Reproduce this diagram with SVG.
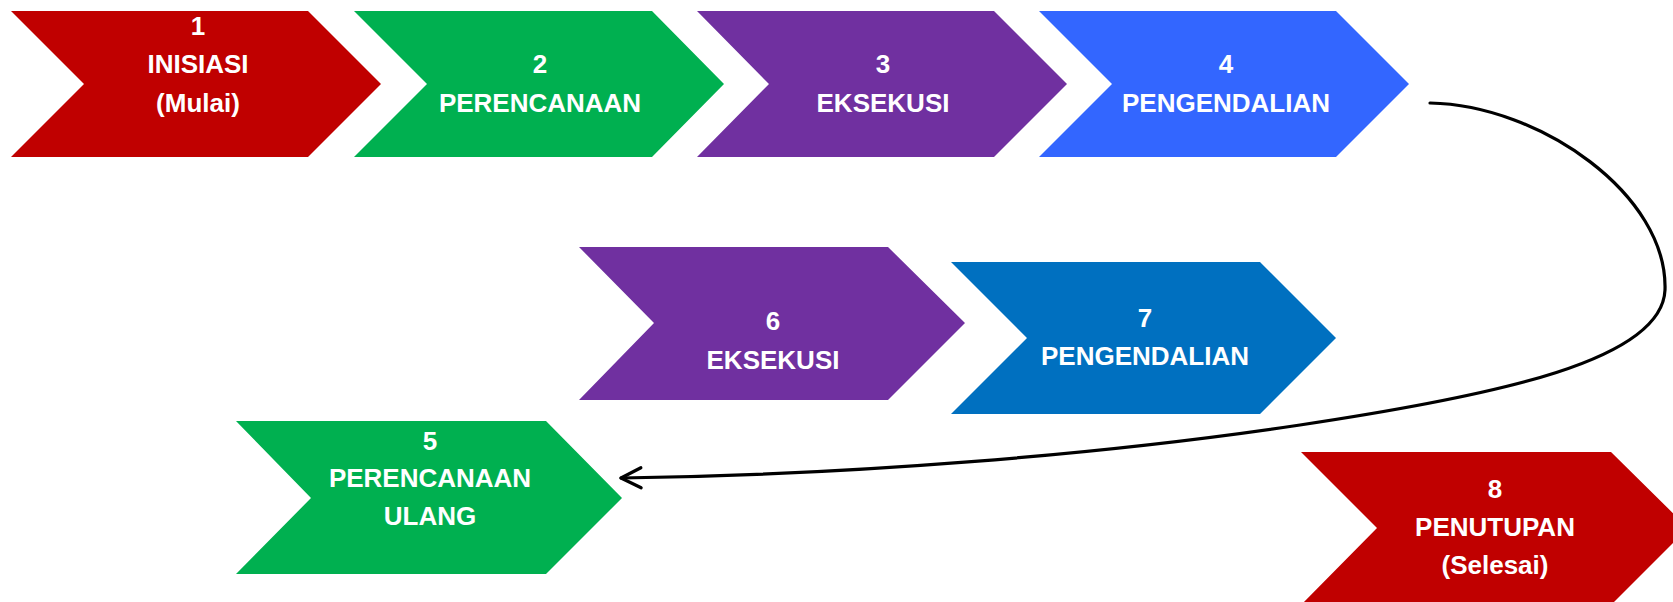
<svg xmlns="http://www.w3.org/2000/svg" width="1673" height="602" viewBox="0 0 1673 602">
  <style>
    .lbl { font-family: "Liberation Sans", Arial, sans-serif; font-weight: bold; font-size: 26px; fill: #FFFFFF; text-anchor: middle; }
    .red { fill: #C00000; }
    .green { fill: #00B050; }
    .purple { fill: #7030A0; }
    .blue { fill: #3366FF; }
    .navy { fill: #0070C0; }
    .link { fill: none; stroke: #000000; stroke-width: 3.2; stroke-linecap: round; }
  </style>
  <defs>
    <marker id="openArrow" markerUnits="userSpaceOnUse" markerWidth="30" markerHeight="30" refX="0" refY="0" orient="auto" overflow="visible">
      <path d="M-20,-10 L0,0 L-20,10" fill="none" stroke="#000000" stroke-width="3.2" stroke-linecap="round" stroke-linejoin="round"/>
    </marker>
  </defs>
  <rect width="1673" height="602" fill="#FFFFFF"/>

  <g id="node1">
    <polygon class="red" points="11,11 308,11 381,84 308,157 11,157 84,84"/>
    <text class="lbl" x="198" y="35">1</text>
    <text class="lbl" x="198" y="73">INISIASI</text>
    <text class="lbl" x="198" y="112">(Mulai)</text>
  </g>

  <g id="node2">
    <polygon class="green" points="354,11 652,11 724,84 652,157 354,157 427,84"/>
    <text class="lbl" x="540" y="73">2</text>
    <text class="lbl" x="540" y="112">PERENCANAAN</text>
  </g>

  <g id="node3">
    <polygon class="purple" points="697,11 994,11 1067,84 994,157 697,157 769,84"/>
    <text class="lbl" x="883" y="73">3</text>
    <text class="lbl" x="883" y="112">EKSEKUSI</text>
  </g>

  <g id="node4">
    <polygon class="blue" points="1039,11 1336,11 1409,84 1336,157 1039,157 1112,84"/>
    <text class="lbl" x="1226" y="73">4</text>
    <text class="lbl" x="1226" y="112">PENGENDALIAN</text>
  </g>

  <g id="node6">
    <polygon class="purple" points="579,247 888,247 965,323 888,400 579,400 654,323"/>
    <text class="lbl" x="773" y="330">6</text>
    <text class="lbl" x="773" y="369">EKSEKUSI</text>
  </g>

  <g id="node7">
    <polygon class="navy" points="951,262 1260,262 1336,338 1260,414 951,414 1027,338"/>
    <text class="lbl" x="1145" y="327">7</text>
    <text class="lbl" x="1145" y="365">PENGENDALIAN</text>
  </g>

  <g id="node5">
    <polygon class="green" points="236,421 546,421 622,498 546,574 236,574 311,498"/>
    <text class="lbl" x="430" y="450">5</text>
    <text class="lbl" x="430" y="487">PERENCANAAN</text>
    <text class="lbl" x="430" y="525">ULANG</text>
  </g>

  <g id="node8">
    <polygon class="red" points="1301,452 1611,452 1688,528 1611,605 1301,605 1377,528"/>
    <text class="lbl" x="1495" y="498">8</text>
    <text class="lbl" x="1495" y="536">PENUTUPAN</text>
    <text class="lbl" x="1495" y="574">(Selesai)</text>
  </g>

  <g id="connectors">
    <path class="link" marker-end="url(#openArrow)" d="M1430,103 C1540,105 1668,195 1665,290 C1662,360 1500,395 1300,425 C1100,455 850,475 621,478"/>
  </g>
</svg>
